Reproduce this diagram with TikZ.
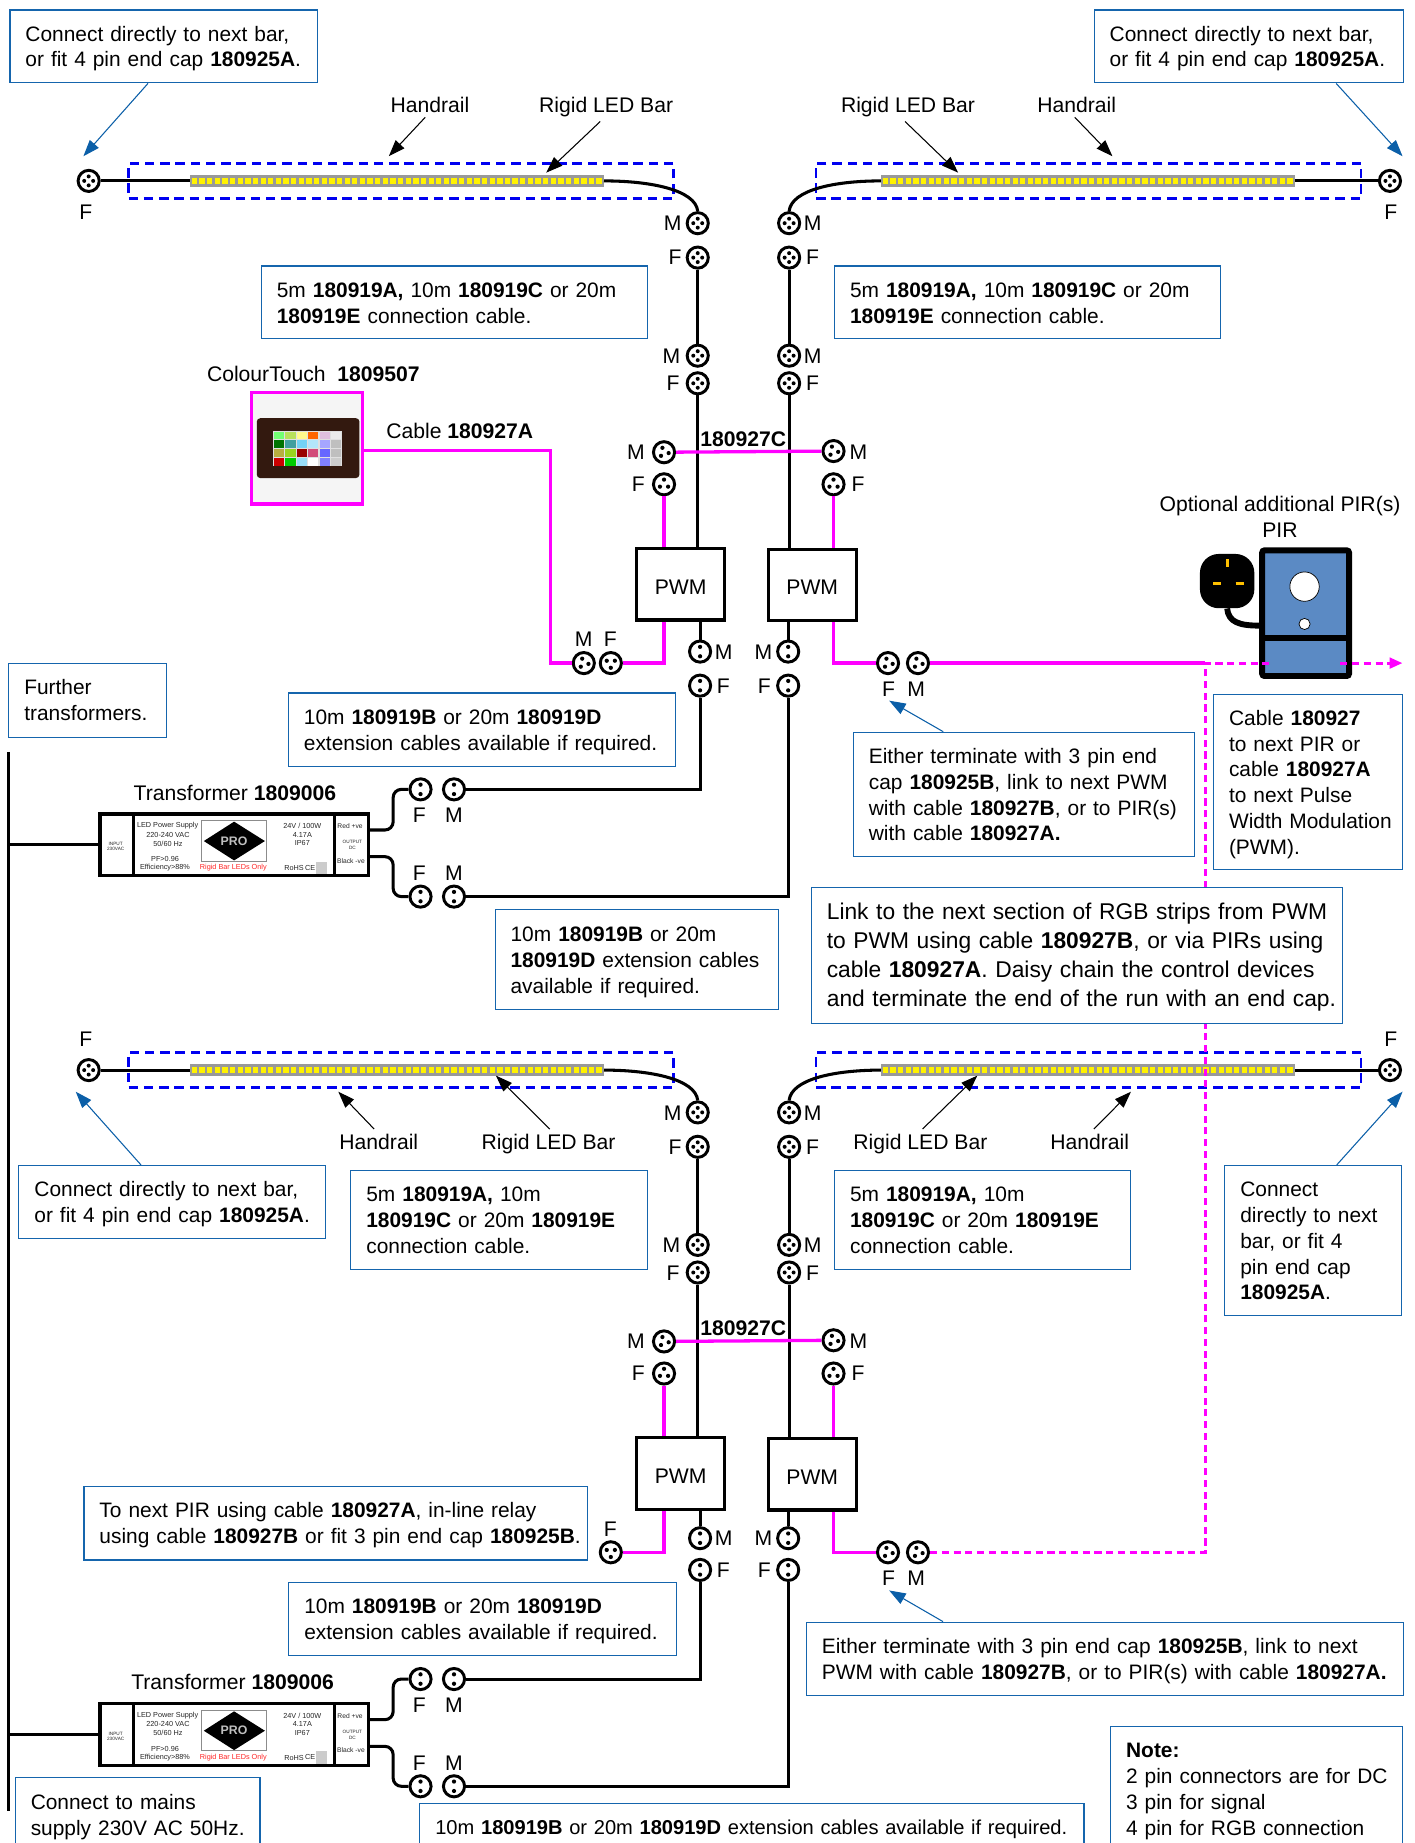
\documentclass[tikz,border=0pt]{standalone}
\usepackage{fontspec}
\setmainfont{Liberation Sans}
\usetikzlibrary{arrows.meta,calc}
\definecolor{boxblue}{HTML}{1565AD}
\definecolor{tipblue}{HTML}{0B5FA8}
\definecolor{railblue}{HTML}{0000F0}
\definecolor{mag}{HTML}{FF00FF}
\definecolor{pirblue}{HTML}{5B8AC4}
\definecolor{gold}{HTML}{FFC000}
\definecolor{ctbrown}{HTML}{33190F}
\tikzset{
  lbl/.style={font=\fontsize{18}{22}\selectfont,anchor=base,inner sep=0pt,yshift=-6.5pt},
  tiny/.style={font=\fontsize{6.2}{7}\selectfont,inner sep=0pt,anchor=center,text=black!85},
  micro/.style={font=\fontsize{4}{5}\selectfont,inner sep=0pt,anchor=center,text=black!85},
  tbox/.style={draw=boxblue,line width=1pt,fill=white,rectangle,inner xsep=0pt,inner ysep=0pt,anchor=north west,font=\fontsize{17.8}{22}\selectfont},
  conn/.style={circle,draw=black,line width=2.5pt,fill=white,minimum size=18pt,inner sep=0pt},
  pinsfour/.style={conn,path picture={\foreach \a in {0,90,180,270}{\fill[black] (path picture bounding box.center)++(\a:3.8pt) circle (1.7pt);}}},
  pinsthree/.style={conn,path picture={\foreach \a in {0,120,240}{\fill[black] (path picture bounding box.center)++(#1+\a:4pt) circle (1.8pt);}}},
  pinsthree/.default=90,
  pinstwo/.style={conn,path picture={\foreach \a in {90,270}{\fill[black] (path picture bounding box.center)++(\a:4pt) circle (1.8pt);}}},
  cable/.style={draw=black,line width=2.6pt},
  sig/.style={draw=mag,line width=2.8pt},
  sigdash/.style={draw=mag,line width=2.6pt,dash pattern=on 6pt off 4pt},
  rail/.style={rectangle,draw=railblue,line width=2.2pt,dash pattern=on 8pt off 5pt,minimum height=29.8pt,minimum width=464pt,inner sep=0pt},
  ledbar/.style={rectangle,fill=black!40,minimum height=10pt,minimum width=352pt,inner sep=0pt},
  strip/.style={draw=yellow,line width=5pt,dash pattern=on 4.5pt off 2pt},
  pwmbox/.style={rectangle,draw=black,line width=2.6pt,fill=white,minimum width=75pt,minimum height=61pt,inner sep=0pt,font=\fontsize{18}{22}\selectfont,text height=17pt,text depth=0pt},
  bluearr/.style={draw=tipblue,line width=0.9pt,-{Triangle[length=14pt,width=10pt,fill=tipblue]}},
  blkarr/.style={draw=black,line width=0.9pt,-{Triangle[length=14pt,width=10pt,fill=black]}},
}
\newcommand\bb[1]{\textbf{#1}}
\newcommand\tbox[7][]{%
  \pgfmathsetmacro\boxw{#4-#2}\pgfmathsetmacro\boxh{#5-#3}%
  \node[tbox,#1,minimum width=\boxw pt,minimum height=\boxh pt,text width=\boxw pt] (#6) at (#2,#3)
    {\raggedright\leftskip=13.2pt\rightskip=-60pt plus 1fil\relax\rule{0pt}{17pt}#7\rule[-4pt]{0pt}{4pt}\par};}
\newcommand\lab[4]{\node[lbl] (#1) at (#2,#3) {#4};}
% one lighting section: rails, bars, cables, PWMs
% #1 suffix, #2 vertical offset, #3 y of lower M, #4 y of lower F
\newcommand\sectionblock[4]{%
\begin{scope}[shift={(0,#2)}]
  \node[rail] (railL#1) at (341.5,153.9) {};
  \node[rail] (railR#1) at (926.8,153.9) {};
  \node[ledbar] (barL#1) at (338,154) {};
  \node[ledbar] (barR#1) at (926.2,154) {};
  \node[pinsfour] (endL#1) at (75.5,154) {};
  \node[pinsfour] (endR#1) at (1183.3,154) {};
  \node[pinsfour] (MaL#1) at (594,190) {};
  \node[pinsfour] (FaL#1) at (594,219.3) {};
  \node[pinsfour] (MbL#1) at (594,302.8) {};
  \node[pinsfour] (FbL#1) at (594,326.3) {};
  \node[pinsfour] (MaR#1) at (671.8,190) {};
  \node[pinsfour] (FaR#1) at (671.8,219.3) {};
  \node[pinsfour] (MbR#1) at (671.8,302.8) {};
  \node[pinsfour] (FbR#1) at (671.8,326.3) {};
  \node[pinsthree=-10] (McL#1) at (565.3,385) {};
  \node[pinsthree=90] (FcL#1) at (565.3,412.3) {};
  \node[pinsthree=-10] (McR#1) at (709.6,384) {};
  \node[pinsthree=90] (FcR#1) at (709.6,412.3) {};
  \node[pwmbox] (pwmL#1) at (579.5,497.3) {PWM};
  \node[pwmbox] (pwmR#1) at (691.5,498) {PWM};
  \node[pinstwo] (MdL#1) at (596,#3) {};
  \node[pinstwo] (FdL#1) at (596,#4) {};
  \node[pinstwo] (MdR#1) at (671,#3) {};
  \node[pinstwo] (FdR#1) at (671,#4) {};
  \node[pinsthree=30] (sigL#1) at (520,564.5) {};
  \node[pinsthree=-10] (sigF#1) at (756,564.5) {};
  \node[pinsthree=-10] (sigM#1) at (781.5,564.5) {};
  \draw[strip] ([xshift=1.5pt]barL#1.west) -- ([xshift=-1.5pt]barL#1.east);
  \draw[strip] ([xshift=1.5pt]barR#1.west) -- ([xshift=-1.5pt]barR#1.east);
  \draw[cable] (endL#1) -- (barL#1.west);
  \draw[cable] (endR#1) -- (barR#1.east);
  \draw[cable] (barL#1.east) .. controls +(40,0) and +(-2,-18) .. (MaL#1.north);
  \draw[cable] (barR#1.west) .. controls +(-40,0) and +(2,-18) .. (MaR#1.north);
  \draw[cable] (FaL#1) -- (MbL#1);
  \draw[cable] (FaR#1) -- (MbR#1);
  \draw[cable] (FbL#1) -- (FbL#1 |- pwmL#1.north);
  \draw[cable] (FbR#1) -- (FbR#1 |- pwmR#1.north);
  \draw[cable] (MdL#1) -- (MdL#1 |- pwmL#1.south);
  \draw[cable] (MdR#1) -- (MdR#1 |- pwmR#1.south);
  \draw[sig] (McL#1) -- (McR#1);
  \draw[sig] (FcL#1) -- (FcL#1 |- pwmL#1.north);
  \draw[sig] (FcR#1) -- (FcR#1 |- pwmR#1.north);
  \draw[sig] (FcL#1 |- pwmL#1.south) |- (sigL#1.east);
  \draw[sig] (FcR#1 |- pwmR#1.south) |- (sigF#1.west);
  \lab{tMaL#1}{572.7}{190}{M}\lab{tFaL#1}{574.7}{219}{F}
  \lab{tMbL#1}{571.5}{302.8}{M}\lab{tFbL#1}{573}{326.3}{F}
  \lab{tMaR#1}{691.8}{190}{M}\lab{tFaR#1}{691.8}{219}{F}
  \lab{tMbR#1}{691.8}{302.8}{M}\lab{tFbR#1}{691.8}{326.3}{F}
  \lab{tMcL#1}{541.4}{384.5}{M}\lab{tFcL#1}{543.5}{412}{F}
  \lab{tMcR#1}{730.8}{384.5}{M}\lab{tFcR#1}{730.4}{412}{F}
  \lab{tMdL#1}{616}{#3}{M}\lab{tFdL#1}{615.7}{#4}{F}
  \lab{tMdR#1}{650}{#3}{M}\lab{tFdR#1}{650.7}{#4}{F}
  \lab{tsigL#1}{519.5}{544.2}{F}
  \lab{tsigF#1}{756.4}{586.5}{F}\lab{tsigM#1}{780}{586.5}{M}
  \node[lbl,font=\fontsize{18}{22}\selectfont\bfseries] (t927#1) at (632.8,373.7) {180927C};
\end{scope}}
% transformer with its two DC connector pairs
\newcommand\transformer[3]{%
\begin{scope}[shift={(0,#2)}]
  \node[rectangle,draw=black,line width=3pt,fill=white,minimum width=228.6pt,minimum height=52.4pt,inner sep=0pt] (tr#1) at (199.3,719.2) {};
  \draw[line width=3pt] (113.5,693) -- (113.5,745.4);
  \draw[line width=3pt] (284.6,693) -- (284.6,745.4);
  \node[rectangle,draw=black!45,line width=0.7pt,fill=white,minimum width=55pt,minimum height=34.4pt,inner sep=0pt] (logo#1) at (199.3,715.8) {};
  \fill[black] (173.5,716) -- (199.3,699.5) -- (225.5,716) -- (199.3,732.5) -- cycle;
  \node[font=\fontsize{10.5}{11}\bfseries\selectfont,text=black!25,inner sep=0pt] (pro#1) at (199.3,716) {PRO};
  \node[tiny] (a1#1) at (142.7,703) {LED Power Supply};
  \node[tiny] (a2#1) at (143,710.5) {220-240 VAC};
  \node[tiny] (a3#1) at (143,718) {50/60 Hz};
  \node[tiny] (a4#1) at (140.5,731.7) {PF>0.96};
  \node[tiny] (a5#1) at (140.5,738.6) {Efficiency>88\%};
  \node[tiny,text=red!85] (a6#1) at (198.6,738.6) {Rigid Bar LEDs Only};
  \node[tiny] (a7#1) at (257.4,703) {24V / 100W};
  \node[tiny] (a8#1) at (257.4,710.5) {4.17A};
  \node[tiny] (a9#1) at (257.4,718) {IP67};
  \node[tiny] (a10#1) at (250.3,739) {RoHS};
  \node[tiny] (a11#1) at (264,738.6) {CE};
  \node[rectangle,fill=black!20,minimum width=9pt,minimum height=10.5pt,inner sep=0pt] (a12#1) at (273.5,738.7) {};
  \node[micro] (a13#1) at (98.5,718.7) {INPUT};
  \node[micro] (a14#1) at (98.5,723) {230VAC};
  \node[micro] (a15#1) at (300,716.6) {OUTPUT};
  \node[micro] (a16#1) at (300,722) {DC};
  \node[tiny,font=\fontsize{5.7}{7}\selectfont] (a17#1) at (298,703.7) {Red +ve};
  \node[tiny,font=\fontsize{5.7}{7}\selectfont] (a18#1) at (298.8,732.7) {Black -ve};
  \coordinate (red#1) at (tr#1.east |- 0,706.6);
  \coordinate (blk#1) at (tr#1.east |- 0,729.3);
  \node[pinstwo] (FtU#1) at (358,672) {};
  \node[pinstwo] (MtU#1) at (386.5,672) {};
  \node[pinstwo] (FtD#1) at (358,763.3) {};
  \node[pinstwo] (MtD#1) at (386.5,763.3) {};
  \draw[cable,rounded corners=7pt] (red#1) -- ++(19.6,0) |- (FtU#1.west);
  \draw[cable,rounded corners=7pt] (blk#1) -- ++(19.6,0) |- (FtD#1.west);
  \lab{tFtU#1}{357}{694}{F}\lab{tMtU#1}{386.5}{694}{M}
  \lab{tFtD#1}{357}{743}{F}\lab{tMtD#1}{386.5}{743}{M}
  \node[lbl] (tt#1) at (#3,674.8) {Transformer \bb{1809006}};
  \draw[cable] (MtU#1.east) -| (FdL#1.south);
  \draw[cable] (MtD#1.east) -| (FdR#1.south);
\end{scope}}
\begin{document}
\begin{tikzpicture}[x=1pt,y=-1pt]
\useasboundingbox (0,0) rectangle (1204.6,1569);
\clip (0,0) rectangle (1204.6,1569);
\fill[white] (0,0) rectangle (1204.6,1569);

\sectionblock{A}{0}{554.7}{583.7}
\sectionblock{B}{757}{552.5}{579.5}
\transformer{A}{0}{200}
\transformer{B}{757.4}{198}

% mains feed
\coordinate (mainsTop) at (7,640);
\coordinate (mainsEnd) at (7,1542);
\coordinate (feedA) at (mainsTop |- trA.west);
\coordinate (feedB) at (mainsTop |- trB.west);
\draw[draw=black,line width=2.5pt] (mainsTop) -- (mainsEnd);
\draw[cable] (feedA) -- (trA.west);
\draw[cable] (feedB) -- (trB.west);

% ColourTouch
\node[rectangle,draw=mag,line width=2.8pt,fill=black!4,minimum width=94.7pt,minimum height=95pt,inner sep=0pt] (ct) at (261.4,381.5) {};
\fill[ctbrown,rounded corners=3pt] (218.6,356) rectangle (306,407);
\fill[black!12] (232.7,367) rectangle (291,396.7);
\foreach \c [count=\i from 0] in {green!55!white,yellow!60!green!70!white,yellow!45!white,red!60!yellow,violet!25!white,black!8,
  green!45!black,teal!75!white,cyan!55!white,cyan!30!white,blue!35!white,black!25,
  olive!65!white,yellow!60!green,red!60!black,purple!70!white,blue!60!white,black!25,
  red!80!black,green!80!black,cyan!40!white,white,blue!50!white,black!20}{
  \pgfmathsetmacro\px{233.2+9.7*mod(\i,6)}
  \pgfmathsetmacro\py{367.5+7.4*floor(\i/6)}
  \fill[\c] (\px,\py) rectangle +(8.8,6.6);
}
\lab{tct}{266.8}{318.4}{ColourTouch\ \ \bb{1809507}}
\lab{tcable}{391.4}{367}{Cable \bb{180927A}}
\node[pinsthree=-10] (sigLM) at (497,564.5) {};
\lab{tsigLM}{496.8}{544.2}{M}
\coordinate (ctOut) at ($(ct.east)+(0,1.9)$);
\draw[sig] (ctOut) -- (ctOut -| 468.6,0) |- (sigLM.west);

% PIR
\lab{tpir1}{1089.7}{429}{Optional additional PIR(s)}
\lab{tpir2}{1089.7}{451}{PIR}
\node[rectangle,draw=black,line width=5pt,fill=pirblue,rounded corners=2pt,minimum width=74pt,minimum height=107pt,inner sep=0pt] (pir) at (1111.5,522) {};
\draw[line width=5pt,draw=black] (pir.west |- 0,543) -- (pir.east |- 0,543);
\node[circle,draw=black,line width=0.6pt,fill=white,minimum size=25pt,inner sep=0pt] (pirA) at (1110.6,499.4) {};
\node[circle,draw=black,line width=0.6pt,fill=white,minimum size=9.5pt,inner sep=0pt] (pirB) at (1110.6,531.2) {};
\node[rectangle,fill=black,rounded corners=16pt,minimum width=46.3pt,minimum height=46.2pt,inner sep=0pt] (plug) at (1044.7,494.7) {};
\draw[line width=5pt,draw=black] (plug.south) .. controls +(1,12) and +(-16,0) .. (pir.west |- 0,532.6);
\draw[draw=gold,line width=2.5pt] (1044.8,476) -- (1044.8,483);
\draw[draw=gold,line width=2.5pt] (1032.7,496.9) -- (1039.5,496.9);
\draw[draw=gold,line width=2.5pt] (1052,496.9) -- (1058.7,496.9);

% signal run to PIR and between sections
\coordinate (jnA) at (1026,564.5);
\coordinate (jnB) at (1026,1321.5);
\coordinate (pirIn) at (1081,564.5);
\coordinate (pirOut) at (1141,564.5);
\coordinate (pirTip) at (1194,564.5);
\draw[sig] (sigMA.east) -- (jnA);
\draw[sigdash] (sigMB.east) -- (jnB) -- (jnA) -- (pirIn);
\draw[sigdash,-{Triangle[length=11pt,width=9pt,fill=mag]}] (pirOut) -- (pirTip);

% text boxes
\tbox{8}{8}{270}{70}{boxTL}{Connect directly to next bar,\\or fit 4 pin end cap \bb{180925A}.}
\tbox{931}{8}{1194}{70}{boxTR}{Connect directly to next bar,\\or fit 4 pin end cap \bb{180925A}.}
\tbox{222}{226}{551}{288}{boxC1}{5m \bb{180919A,} 10m \bb{180919C} or 20m\\\bb{180919E} connection cable.}
\tbox{710}{226}{1038.6}{288}{boxC2}{5m \bb{180919A,} 10m \bb{180919C} or 20m\\\bb{180919E} connection cable.}
\tbox{245}{589.4}{574.8}{651.8}{boxE1}{10m \bb{180919B} or 20m \bb{180919D}\\extension cables available if required.}
\tbox{7}{564}{141}{627}{boxFur}{Further\\transformers.}
\tbox{726}{622.9}{1016.7}{729}{boxEi1}{Either terminate with 3 pin end\\cap \bb{180925B}, link to next PWM\\with cable \bb{180927B}, or to PIR(s)\\with cable \bb{180927A.}}
\tbox{1032.6}{590.8}{1193.6}{740}{boxCab}{Cable \bb{180927}\\to next PIR or\\cable \bb{180927A}\\to next Pulse\\Width Modulation\\(PWM).}
\tbox[font=\fontsize{19.4}{24.7}\selectfont]{690.2}{755.3}{1142.5}{871}{boxLink}{Link to the next section of RGB strips from PWM\\to PWM using cable \bb{180927B}, or via PIRs using\\cable \bb{180927A}. Daisy chain the control devices\\and terminate the end of the run with an end cap.}
\tbox{421}{774}{662}{859}{boxE2}{10m \bb{180919B} or 20m\\\bb{180919D} extension cables\\available if required.}
\tbox{15.6}{991.7}{276.3}{1054}{boxBL}{Connect directly to next bar,\\or fit 4 pin end cap \bb{180925A}.}
\tbox{298.2}{996}{550.4}{1080}{boxC3}{5m \bb{180919A,} 10m\\\bb{180919C} or 20m \bb{180919E}\\connection cable.}
\tbox{710}{996}{962.2}{1080}{boxC4}{5m \bb{180919A,} 10m\\\bb{180919C} or 20m \bb{180919E}\\connection cable.}
\tbox{1042.2}{991.7}{1192.8}{1119.5}{boxBR}{Connect\\directly to next\\bar, or fit 4\\pin end cap\\\bb{180925A}.}
\tbox{71}{1264.7}{500}{1327.5}{boxPIR}{To next PIR using cable \bb{180927A}, in-line relay\\using cable \bb{180927B} or fit 3 pin end cap \bb{180925B}.}
\tbox{245.4}{1346.4}{575.1}{1408.9}{boxE3}{10m \bb{180919B} or 20m \bb{180919D}\\extension cables available if required.}
\tbox{686}{1380.5}{1194}{1443}{boxEi2}{Either terminate with 3 pin end cap \bb{180925B}, link to next\\PWM with cable \bb{180927B}, or to PIR(s) with cable \bb{180927A.}}
\tbox{945}{1469}{1193.6}{1575.6}{boxNote}{\bb{Note:}\\2 pin connectors are for DC\\3 pin for signal\\4 pin for RGB connection}
\tbox[font=\fontsize{17.1}{22}\selectfont]{356.9}{1534.6}{922.3}{1575.4}{boxE4}{10m \bb{180919B} or 20m \bb{180919D} extension cables available if required.}
\tbox{12.5}{1512.4}{220.8}{1576.6}{boxMains}{Connect to mains\\supply 230V AC 50Hz.}

% end labels and callouts
\lab{tendL}{73}{180}{F}\lab{tendR}{1184}{180}{F}
\lab{tendLb}{73}{884.7}{F}\lab{tendRb}{1184}{884.7}{F}
\lab{hr1}{366}{89}{Handrail}\lab{rb1}{516}{89}{Rigid LED Bar}
\lab{rb2}{773}{89}{Rigid LED Bar}\lab{hr2}{916.6}{89}{Handrail}
\lab{hr3}{322.5}{971.9}{Handrail}\lab{rb3}{467}{971.9}{Rigid LED Bar}
\lab{rb4}{783.6}{971.9}{Rigid LED Bar}\lab{hr4}{927.7}{971.9}{Handrail}
\coordinate (p1) at (331,133);\coordinate (p2) at (465,147);
\coordinate (p3) at (815.7,147);\coordinate (p4) at (947,133);
\coordinate (p5) at (288,929.4);\coordinate (p6) at (422.2,915.7);
\coordinate (p7) at (832,915.7);\coordinate (p8) at (962.8,929.4);
\draw[blkarr] (hr1.south) ++(-4,4) -- (p1);
\draw[blkarr] (rb1.south) ++(-5,4) -- (p2);
\draw[blkarr] (rb2.south) ++(-2.5,4) -- (p3);
\draw[blkarr] (hr2.south) ++(-1.6,4) -- (p4);
\draw[blkarr] (hr3.north) ++(-4,-4) -- (p5);
\draw[blkarr] (rb3.north) ++(1,-4) -- (p6);
\draw[blkarr] (rb4.north) ++(1.8,-4) -- (p7);
\draw[blkarr] (hr4.north) ++(3.5,-4) -- (p8);
\coordinate (q1) at (71,133);\coordinate (q2) at (1194,133);
\coordinate (q3) at (64.5,929.4);\coordinate (q4) at (1194,929.4);
\coordinate (q5) at (757,596.5);\coordinate (q6) at (757,1354);
\draw[bluearr] (boxTL.south west) ++(118,0) -- (q1);
\draw[bluearr] (boxTR.south west) ++(206.5,0) -- (q2);
\draw[bluearr] (boxBL.north west) ++(104.4,0) -- (q3);
\draw[bluearr] (boxBR.north west) ++(95.8,0) -- (q4);
\draw[bluearr] (boxEi1.north west) ++(77,0) -- (q5);
\draw[bluearr] (boxEi2.north west) ++(116.8,0) -- (q6);
\end{tikzpicture}
\end{document}
